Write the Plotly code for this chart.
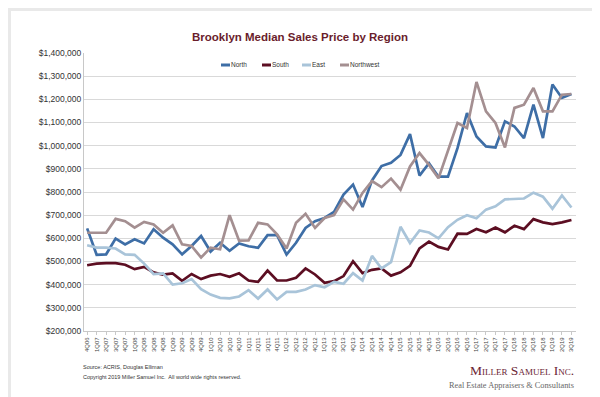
import plotly.graph_objects as go

quarters = ["4Q06"] + [f"{q}Q{y:02d}" for y in range(7, 19) for q in range(1, 5)] + ["1Q19", "2Q19", "3Q19"]

north = [643, 529, 531, 599, 574, 596, 578, 639, 603, 574, 531, 567, 610, 543, 581, 546,
         578, 566, 559, 614, 614, 530, 581, 645, 674, 688, 714, 789, 832, 735, 850, 912,
         926, 960, 1050, 871, 924, 866, 866, 989, 1141, 1040, 997, 992, 1105, 1083, 1033, 1177,
         1033, 1264, 1206, 1223]
south = [484, 491, 493, 493, 486, 467, 477, 453, 443, 449, 417, 446, 424, 439, 446, 434,
         449, 418, 412, 461, 418, 418, 430, 470, 444, 408, 415, 437, 501, 450, 464, 470,
         439, 453, 481, 557, 586, 563, 552, 620, 619, 640, 626, 647, 626, 654, 640, 683,
         669, 661, 669, 679]
east = [570, 560, 560, 556, 531, 529, 491, 446, 449, 400, 406, 424, 381, 357, 343, 341,
        349, 376, 340, 379, 336, 369, 369, 379, 398, 389, 412, 404, 450, 418, 524, 470,
        497, 650, 580, 634, 625, 600, 648, 680, 700, 687, 724, 738, 768, 770, 772, 797,
        780, 728, 785, 733]
northwest = [624, 624, 624, 684, 674, 646, 671, 660, 624, 656, 574, 567, 517, 560, 553, 700,
             590, 591, 667, 660, 617, 556, 667, 706, 645, 688, 700, 768, 724, 796, 847, 821,
             858, 810, 910, 968, 917, 859, 982, 1098, 1076, 1275, 1148, 1098, 992, 1163, 1177, 1249,
             1148, 1148, 1220, 1223]

series_names = ["North", "South", "East", "Northwest"]
series_values = [north, south, east, northwest]
series_colors = ["#3E6EA6", "#5C0E22", "#A9C4D9", "#A48F91"]

y_ticks = list(range(200000, 1400001, 100000))
y_tick_labels = [f"${v:,}" for v in y_ticks]

fig = go.Figure()
for name, vals, col in zip(series_names, series_values, series_colors):
    fig.add_trace(go.Scatter(
        x=quarters, y=[v * 1000 for v in vals], name=name, mode="lines",
        line=dict(color=col, width=2.7), hoverinfo="x+y+name", showlegend=False,
    ))

L, R, T, B = 76, 32, 45, 74
W, H = 600, 397
pw, ph = W - L - R, H - T - B

def px(x):
    return (x - L) / pw

def py(y):
    return (H - B - y) / ph

shapes = [dict(
    type="rect", xref="paper", yref="paper", layer="below",
    x0=px(3), x1=px(597), y0=py(392), y1=py(3),
    fillcolor="white", line=dict(width=0),
)]
annotations = [
    dict(text="Source: ACRIS, Douglas Elliman", xref="paper", yref="paper",
         x=px(73), y=py(359), xanchor="left", yanchor="middle", showarrow=False,
         font=dict(size=5.5, color="#333333")),
    dict(text="Copyright 2019 Miller Samuel Inc.  All world wide rights reserved.", xref="paper", yref="paper",
         x=px(73), y=py(369), xanchor="left", yanchor="middle", showarrow=False,
         font=dict(size=5.5, color="#333333")),
    dict(text="Miller Samuel Inc.", xref="paper", yref="paper",
         x=px(568), y=py(362), xanchor="right", yanchor="middle", showarrow=False,
         font=dict(size=13.5, color="#6B2434", family="Liberation Serif, Times New Roman, serif", variant="small-caps")),
    dict(text="Real Estate Appraisers &amp; Consultants", xref="paper", yref="paper",
         x=px(568), y=py(377), xanchor="right", yanchor="middle", showarrow=False,
         font=dict(size=8.3, color="#666666", family="Liberation Serif, Times New Roman, serif")),
]

# compact legend (short line swatches like the original)
legend_x = [213, 254, 294, 332]
for name, col, lx in zip(series_names, series_colors, legend_x):
    shapes.append(dict(type="line", xref="paper", yref="paper",
                       x0=px(lx), x1=px(lx + 9), y0=py(57), y1=py(57),
                       line=dict(color=col, width=3)))
    annotations.append(dict(text=name, xref="paper", yref="paper",
                            x=px(lx + 9), y=py(57), xanchor="left", yanchor="middle",
                            showarrow=False, xshift=-1,
                            font=dict(size=6.5, color="#333333")))

fig.update_layout(
    width=W, height=H,
    margin=dict(l=L, r=R, t=T, b=B),
    paper_bgcolor="#E9E9E9",
    plot_bgcolor="white",
    showlegend=False,
    font=dict(family="Liberation Sans, Arial, sans-serif", color="#333333"),
    title=dict(
        text="Brooklyn Median Sales Price by Region",
        font=dict(size=11.5, color="#6A1D2C", family="Liberation Sans, Arial, sans-serif", weight="bold"),
        xref="container", x=292 / W, xanchor="center",
        yref="container", y=1 - 29 / H, yanchor="middle",
    ),
    xaxis=dict(
        type="category", range=[-0.33, 51.48],
        tickangle=-90, tickfont=dict(size=6, color="#444444"),
        showgrid=False, showline=True, linecolor="#C8C8C8", linewidth=1,
        ticks="outside", ticklen=3, tickcolor="#C8C8C8",
    ),
    yaxis=dict(
        range=[200000, 1400000], tickvals=y_ticks, ticktext=y_tick_labels,
        tickfont=dict(size=8.5, color="#333333"),
        showgrid=True, gridcolor="#D9D9D9", gridwidth=1,
        showline=True, linecolor="#C8C8C8", linewidth=1,
        ticks="", zeroline=False,
    ),
    shapes=shapes,
    annotations=annotations,
)

fig.write_html("out.html")
